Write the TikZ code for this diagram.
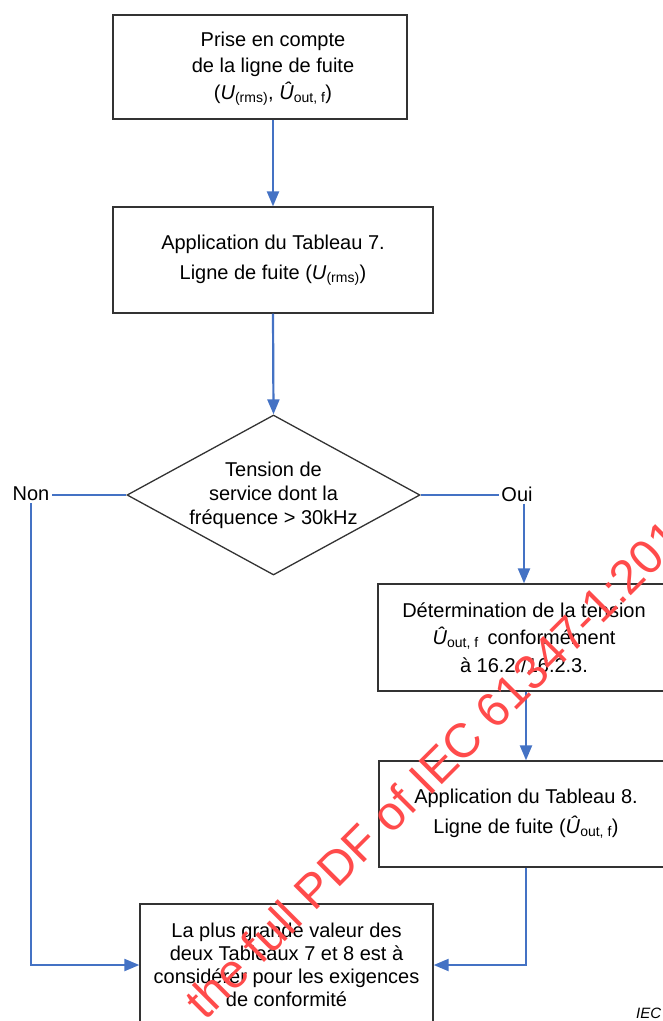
\documentclass[tikz,border=0pt]{standalone}
\usepackage{fontspec}
\setmainfont{Liberation Sans}
\usetikzlibrary{arrows.meta, positioning, shapes.geometric}
\definecolor{flowblue}{HTML}{4472C4}
\definecolor{boxline}{HTML}{333333}
\definecolor{stampred}{HTML}{FF4B4B}

\begin{document}
\begin{tikzpicture}[x=1pt, y=-1pt, >={Triangle[length=15pt,width=12pt]},
    every node/.style={font=\fontsize{20}{25}\selectfont},
    stepbox/.style={draw=boxline, line width=1.3pt, inner sep=0pt, align=center},
    flow/.style={draw=flowblue, line width=2.2pt}]
  \useasboundingbox (0,0) rectangle (663,1021);
  \clip (0,0) rectangle (663,1021);

  \node[stepbox, minimum width=294pt, minimum height=104pt] (prise) at (260,67) {};
  \node[align=center, inner sep=0pt, font=\fontsize{20}{26.5}\selectfont] (prisetxt) at (273,68.5)
    {Prise en compte\\de la ligne de fuite\\(\textit{U}\textsubscript{(rms)}, \textit{Û}\textsubscript{out, f})};
  \node[stepbox, minimum width=320pt, minimum height=106pt, font=\fontsize{20}{30}\selectfont] (tab7) at (273,260)
    {Application du Tableau 7.\\Ligne de fuite (\textit{U}\textsubscript{(rms)})};
  \node[diamond, draw=boxline, line width=1.3pt, inner sep=0pt, aspect=1.83, minimum width=293pt,
      minimum height=160pt, align=center, font=\fontsize{20}{24}\selectfont] (freq) at (273.5,495)
    {Tension de\\service dont la\\fréquence > 30kHz};
  \node[inner sep=2pt] (non) at (31,494) {Non};
  \node[inner sep=2pt] (oui) at (517,494) {Oui};
  \node[stepbox, minimum width=292pt, minimum height=107pt, font=\fontsize{20}{27.5}\selectfont] (determ) at (524,637.5)
    {Détermination de la tension\\\textit{Û}\textsubscript{out, f}\, conformément\\à 16.2./16.2.3.};
  \node[stepbox, minimum width=294pt, minimum height=106pt, font=\fontsize{20}{30}\selectfont] (tab8) at (526,814)
    {Application du Tableau 8.\\Ligne de fuite (\textit{Û}\textsubscript{out, f})};
  \node[stepbox, minimum width=293pt, minimum height=122pt, font=\fontsize{20}{23}\selectfont] (final) at (286.5,965)
    {La plus grande valeur des\\deux Tableaux 7 et 8 est à\\considérer pour les exigences\\de conformité};
  \node[anchor=west, inner sep=0pt, font=\fontsize{15}{18}\selectfont\itshape] (iec) at (636,1013) {IEC};

  \draw[flow,->] (tab7.north |- prise.south) -- (tab7.north);
  \draw[flow,->] (tab7.south) -- (freq.north);
  \draw[flow] (freq.west) -- (freq.west -| non.east);
  \draw[flow,->] (non.south) |- (final.west);
  \draw[flow] (freq.east) -- (freq.east -| oui.west);
  \draw[flow,->] (determ.north |- oui.south) -- (determ.north);
  \draw[flow,->] (tab8.north |- determ.south) -- (tab8.north);
  \draw[flow,->] (tab8.south) |- (final.east);

  \node[text=stampred, rotate=45, anchor=base west, inner sep=0pt, font=\fontsize{48}{58}\selectfont] (stamp) at (205,1022)
    {the full PDF of IEC 61347-1:2015};
\end{tikzpicture}
\end{document}
